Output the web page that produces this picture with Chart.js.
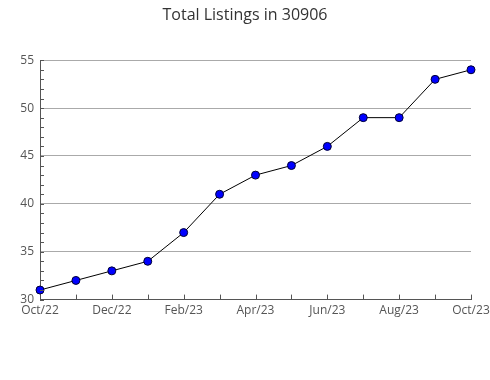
<!DOCTYPE html>
<html>
<head>
<meta charset="utf-8">
<script src="https://cdn.jsdelivr.net/npm/chart.js@4.4.0/dist/chart.umd.min.js"></script>
<style>
    html, body { margin: 0; padding: 0; background: #fff; }
    #wrap { width: 490px; height: 380px; }
</style>
</head>
<body>
<div id="wrap"><canvas id="grafica"></canvas></div>
<script>
const meses = ['Oct/22', 'Nov/22', 'Dec/22', 'Jan/23', 'Feb/23', 'Mar/23', 'Apr/23',
    'May/23', 'Jun/23', 'Jul/23', 'Aug/23', 'Sep/23', 'Oct/23'];
const listados = [31, 32, 33, 34, 37, 41, 43, 44, 46, 49, 49, 53, 54];
const yMin = 30;
const yMax = 55;
const yMajor = 5;

// ticks cortos hacia dentro del area
const ticksInternos = {
    id: 'ticksInternos',
    afterDraw(chart) {
        const ctx = chart.ctx;
        const x = chart.scales.x;
        const y = chart.scales.y;
        ctx.save();
        ctx.strokeStyle = '#555';
        ctx.lineWidth = 1;
        ctx.beginPath();
        for (let v = yMin; v <= yMax; v++) {
            let py = Math.round(y.getPixelForValue(v)) + 0.5;
            ctx.moveTo(x.left, py);
            ctx.lineTo(x.left + 4, py);
        }
        meses.forEach(function (m, i) {
            let px = Math.round(x.getPixelForValue(i)) + 0.5;
            ctx.moveTo(px, y.bottom);
            ctx.lineTo(px, y.bottom - 5);
        });
        ctx.stroke();
        ctx.restore();
    }
};

new Chart(document.getElementById('grafica').getContext('2d'), {
    type: 'line',
    data: {
        labels: meses,
        datasets: [{
            label: 'Total Listings',
            data: listados,
            borderColor: '#000',
            borderWidth: 1,
            tension: 0,
            pointRadius: 4,
            pointBackgroundColor: '#0000ff',
            pointBorderColor: '#000033',
            pointBorderWidth: 1
        }]
    },
    options: {
        responsive: true,
        maintainAspectRatio: false,
        animation: false,
        layout: {
            padding: { left: 0, right: 0, top: 0, bottom: 58 }
        },
        plugins: {
            legend: { display: false },
            tooltip: { enabled: false },
            title: {
                display: true,
                text: 'Total Listings in 30906',
                color: '#333',
                font: { family: 'Open Sans', size: 16, weight: 'normal' },
                padding: { top: 6, bottom: 35 }
            }
        },
        scales: {
            x: {
                offset: false,
                afterFit: function (scale) {
                    scale.paddingRight = 19;
                },
                grid: { display: false, drawTicks: false },
                border: { display: true, color: '#555', width: 1 },
                ticks: {
                    autoSkip: false,
                    maxRotation: 0,
                    padding: 4,
                    color: '#555',
                    font: { family: 'Open Sans', size: 12 },
                    callback: function (val, i) {
                        return i % 2 === 0 ? meses[i] : '';
                    }
                }
            },
            y: {
                min: yMin,
                max: yMax,
                afterFit: function (scale) {
                    scale.width = 40;
                },
                grid: {
                    drawTicks: false,
                    color: function (c) {
                        return c.tick && c.tick.value % yMajor === 0 ? '#aaa' : 'rgba(0,0,0,0)';
                    }
                },
                border: { display: true, color: '#555', width: 1 },
                ticks: {
                    stepSize: 1,
                    autoSkip: false,
                    padding: 6,
                    color: '#555',
                    font: { family: 'Open Sans', size: 12 },
                    callback: function (val) {
                        return val % yMajor === 0 ? val : '';
                    }
                }
            }
        }
    },
    plugins: [ticksInternos]
});
</script>
</body>
</html>
